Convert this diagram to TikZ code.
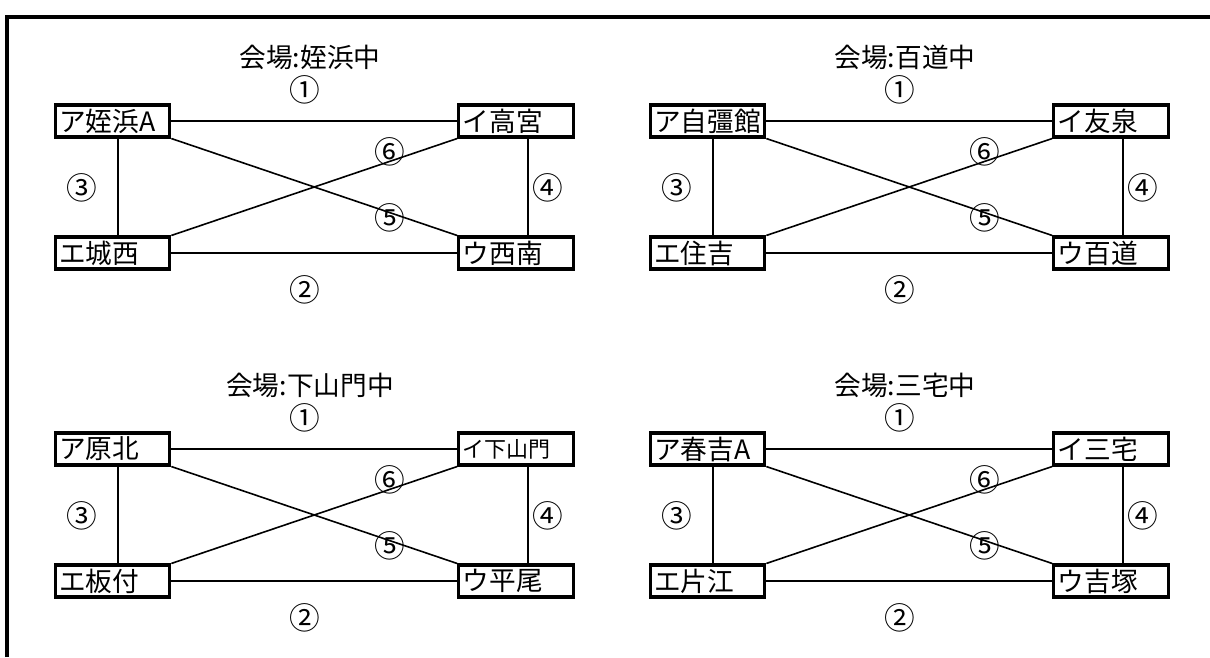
\documentclass[tikz,border=0pt]{standalone}
\usepackage{fontspec}
\setmainfont{Noto Sans CJK JP}
\newcommand\mypanel[9]{%
\begin{scope}[shift={(#2,#3)}]
\node[ttl] (#1t) at (310,57) {#4};
\node[num] (#1n1) at (305,90) {①};
\node[box] (#1A) at (112.5,121) {#5};
\node[box] (#1I) at (516,121) {#6};
\node[box] (#1E) at (112.5,253) {#7};
\node[box] (#1U) at (516,253) {#8};
\node[num] (#1n3) at (82,188) {③};
\node[num] (#1n4) at (548,188) {④};
\node[num] (#1n6) at (390,152) {⑥};
\node[num] (#1n5) at (390,218) {⑤};
\node[num] (#1n2) at (305,290) {②};
\draw[conn] (#1A.east) -- (#1I.west);
\draw[conn] (#1E.east) -- (#1U.west);
\draw[conn] ([xshift=4pt]#1A.south) -- ([xshift=4pt]#1E.north);
\draw[conn] ([xshift=9pt]#1I.south) -- ([xshift=9pt]#1U.north);
\draw[diag] (#1A.south east) -- (#1U.north west);
\draw[diag] (#1E.north east) -- (#1I.south west);
\end{scope}}
\begin{document}
\begin{tikzpicture}[x=0.75pt,y=-0.75pt,
  box/.style={draw, line width=2.3pt, text width=80pt, minimum height=24pt, inner xsep=3pt, inner ysep=2pt, align=left, font=\fontsize{20pt}{22pt}\selectfont},
  ttl/.style={font=\fontsize{20pt}{22pt}\selectfont, inner sep=0pt},
  num/.style={font=\fontsize{23pt}{24pt}\selectfont, inner sep=0pt},
  conn/.style={line width=1pt},
  diag/.style={line width=1.2pt}]
\useasboundingbox (0,0) rectangle (1210,657);
\coordinate (fb) at (7,657);
\coordinate (fc) at (7,17);
\coordinate (fr) at (1210,17);
\draw[line width=2.3pt] (fb) -- (fc) -- (fr);
\mypanel{p}{0}{0}{会場:姪浜中}{ア姪浜A}{イ高宮}{エ城西}{ウ西南}{}
\mypanel{q}{595}{0}{会場:百道中}{ア自彊館}{イ友泉}{エ住吉}{ウ百道}{}
\mypanel{r}{0}{328}{会場:下山門中}{ア原北}{{\fontsize{16.5pt}{18pt}\selectfont イ下山門}}{エ板付}{ウ平尾}{}
\mypanel{s}{595}{328}{会場:三宅中}{ア春吉A}{イ三宅}{エ片江}{ウ吉塚}{}
\end{tikzpicture}
\end{document}
